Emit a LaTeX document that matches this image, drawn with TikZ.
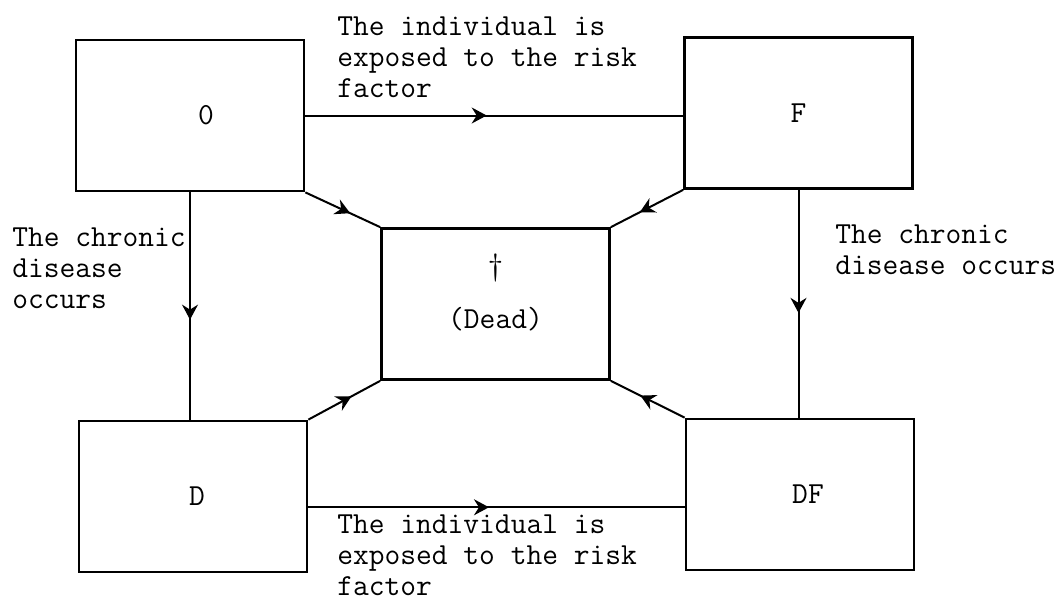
\documentclass[tikz,border=0pt]{standalone}
\usepackage{fontspec}
\usetikzlibrary{arrows.meta,calc,decorations.markings}

\tikzset{
  state/.style={draw,line width=1.4pt,minimum width=114pt,minimum height=75.5pt,inner sep=0pt,font=\ttfamily\fontsize{15.3}{15.3}\selectfont},
  note/.style={align=left,inner sep=0pt,anchor=base west,font=\ttfamily\fontsize{15.3}{15.3}\selectfont},
  flow/.style={line width=1pt,postaction={decorate},
    decoration={markings,mark=at position #1 with {\arrow{Stealth[length=7.5pt,width=8pt,inset=2.5pt]}}}},
  flow/.default=0.48
}

\begin{document}
\begin{tikzpicture}[x=0.5pt,y=-0.5pt]
\useasboundingbox (0,0) rectangle (1061,601);
% states
\node[state] (O) at (190,115.5) {\hspace{16pt}0};
\node[state] (F) at (798.5,113) {F};
\node[state] (D) at (193,496.5) {\hspace{4pt}D};
\node[state] (DF) at (800,494.5) {\hspace{8pt}DF};
\node[state,align=center] (dead) at (495.5,304) {\dag\\[11pt](Dead)\\[-2.3pt]\mbox{}};
% transitions
\draw[flow] (O.east) -- (O.east -| F.west);
\coordinate (dout) at ($(D.south east)!0.43!(D.north east)$);
\draw[flow] (dout) -- (dout -| DF.west);
\draw[flow=0.56] (O.south) -- (O.south |- D.north);
\draw[flow=0.54] (F.south) -- (F.south |- DF.north);
\draw[flow=0.6] (O.south east) -- (dead.north west);
\draw[flow=0.6] (F.south west) -- (dead.north east);
\draw[flow=0.6] (D.north east) -- (dead.south west);
\draw[flow=0.6] (DF.north west) -- (dead.south east);
% labels (anchored at the last line)
\node[note] (topnote) at (337,97) {The individual is\\exposed to the risk\\factor};
\node[note] (botnote) at (337,595) {The individual is\\exposed to the risk\\factor};
\node[note] (leftnote) at (12,308) {The chronic\\disease\\occurs};
\node[note] (rightnote) at (835,274) {The chronic\\disease occurs};
\end{tikzpicture}
\end{document}
